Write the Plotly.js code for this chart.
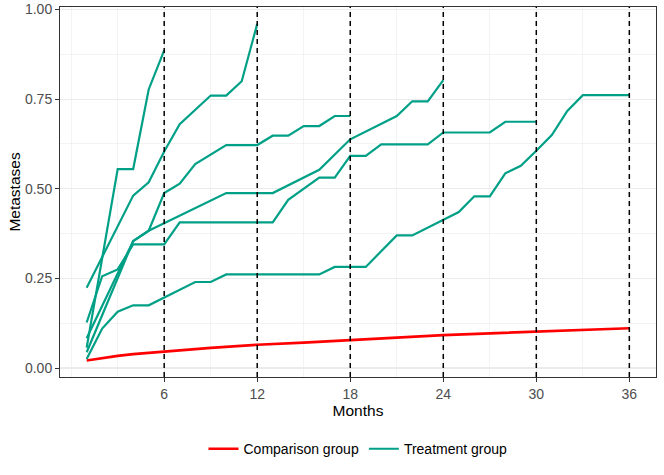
<!DOCTYPE html>
<html>
<head>
<meta charset="utf-8">
<script src="https://cdn.plot.ly/plotly-3.0.1.min.js"></script>
<style>html,body{margin:0;padding:0;background:#fff;}#chart{width:664px;height:475px;}</style>
</head>
<body>
<div id="chart"></div>
<script>
// Comparison group
const compMonths = [1, 2, 3, 4, 5, 6, 9, 12, 15, 18, 21, 24, 27, 30, 33, 36];
const compValues = [0.021, 0.028, 0.034, 0.039, 0.043, 0.046, 0.056, 0.065, 0.071, 0.077, 0.085, 0.092, 0.097, 0.102, 0.106, 0.111];

// Treatment group curves (one per follow-up length)
const t6Months = [1, 3, 4, 5, 6];
const t6Values = [0.057, 0.555, 0.555, 0.777, 0.886];

const t12Months = [1, 4, 5, 6, 7, 9, 10, 11, 12];
const t12Values = [0.224, 0.481, 0.518, 0.604, 0.68, 0.76, 0.76, 0.80, 0.96];

const t18Months = [1, 4, 5, 6, 7, 8, 10, 12, 13, 14, 15, 16, 17, 18];
const t18Values = [0.083, 0.354, 0.383, 0.488, 0.514, 0.569, 0.622, 0.622, 0.648, 0.648, 0.675, 0.675, 0.703, 0.703];

const t24Months = [1, 4, 5, 10, 13, 16, 18, 21, 22, 23, 24];
const t24Values = [0.044, 0.354, 0.383, 0.488, 0.488, 0.553, 0.638, 0.703, 0.744, 0.744, 0.803];

const t30Months = [1, 2, 3, 4, 6, 7, 13, 14, 16, 17, 18, 19, 20, 23, 24, 27, 28, 30];
const t30Values = [0.127, 0.256, 0.275, 0.345, 0.345, 0.406, 0.406, 0.469, 0.531, 0.531, 0.592, 0.592, 0.624, 0.624, 0.657, 0.657, 0.687, 0.687];

const t36Months = [1, 2, 3, 4, 5, 6, 8, 9, 10, 16, 17, 19, 21, 22, 24, 25, 26, 27, 28, 29, 30, 31, 32, 33, 36];
const t36Values = [0.025, 0.11, 0.157, 0.175, 0.175, 0.197, 0.24, 0.24, 0.261, 0.261, 0.282, 0.282, 0.37, 0.37, 0.414, 0.435, 0.479, 0.479, 0.543, 0.564, 0.606, 0.65, 0.717, 0.761, 0.761];

// Follow-up cut-offs (dashed lines) and tick labels
const cutoffs = [6, 12, 18, 24, 30, 36];
const xTicks = [6, 12, 18, 24, 30, 36];
const xMinor = [0, 3, 9, 15, 21, 27, 33];
const yTicks = [0, 0.25, 0.5, 0.75, 1];
const yTickText = ['0.00', '0.25', '0.50', '0.75', '1.00'];
const yMinor = [0.125, 0.375, 0.625, 0.875];

const TEAL = '#00A087';
const RED = '#FF0000';
const FONT = 'Liberation Sans, Arial, Helvetica, sans-serif';

const treatment = [
  [t6Months, t6Values], [t12Months, t12Values], [t18Months, t18Values],
  [t24Months, t24Values], [t30Months, t30Values], [t36Months, t36Values]
];

const data = [{
  x: compMonths, y: compValues, type: 'scatter', mode: 'lines',
  name: 'Comparison group', line: {color: RED, width: 2.7},
  legendgroup: 'comp', hoverinfo: 'skip'
}];
treatment.forEach((t, i) => {
  data.push({
    x: t[0], y: t[1], type: 'scatter', mode: 'lines',
    name: 'Treatment group', line: {color: TEAL, width: 2.2},
    legendgroup: 'treat', showlegend: i === 0, hoverinfo: 'skip'
  });
});

const shapes = cutoffs.map(c => ({
  type: 'line', xref: 'x', yref: 'paper', x0: c, x1: c, y0: 0, y1: 1,
  line: {color: '#000000', width: 1.5, dash: '5px,4px'}, layer: 'above'
}));

const layout = {
  width: 664, height: 475,
  margin: {l: 60, r: 8, t: 7, b: 98},
  paper_bgcolor: '#ffffff', plot_bgcolor: '#ffffff',
  showlegend: true,
  font: {family: FONT, color: '#000'},
  xaxis: {
    range: [-0.72, 37.72], tickvals: xTicks, ticktext: xTicks.map(String),
    ticks: 'outside', ticklen: 4, tickwidth: 1, tickcolor: '#333333',
    tickfont: {family: FONT, size: 14, color: '#4D4D4D'},
    showgrid: true, gridcolor: '#EBEBEB', gridwidth: 1.1,
    minor: {tickvals: xMinor, showgrid: true, gridcolor: '#EBEBEB', gridwidth: 0.6, ticks: ''},
    zeroline: false, showline: true, mirror: true, linecolor: '#333333', linewidth: 1,
    title: {text: 'Months', font: {family: FONT, size: 15.5, color: '#000'}, standoff: 3}
  },
  yaxis: {
    range: [-0.025, 1.007], tickvals: yTicks, ticktext: yTickText,
    ticks: 'outside', ticklen: 4, tickwidth: 1, tickcolor: '#333333',
    tickfont: {family: FONT, size: 14, color: '#4D4D4D'},
    showgrid: true, gridcolor: '#EBEBEB', gridwidth: 1.1,
    minor: {tickvals: yMinor, showgrid: true, gridcolor: '#EBEBEB', gridwidth: 0.6, ticks: ''},
    zeroline: false, showline: true, mirror: true, linecolor: '#333333', linewidth: 1,
    title: {text: 'Metastases', font: {family: FONT, size: 15.5, color: '#000'}, standoff: 0}
  },
  legend: {
    orientation: 'h', x: 0.5, xanchor: 'center', y: -0.195, yanchor: 'middle',
    font: {family: FONT, size: 14, color: '#000'}, bgcolor: 'rgba(0,0,0,0)',
    traceorder: 'normal', itemwidth: 30
  },
  shapes: shapes
};

Plotly.newPlot('chart', data, layout, {displayModeBar: false, staticPlot: true});
</script>
</body>
</html>
